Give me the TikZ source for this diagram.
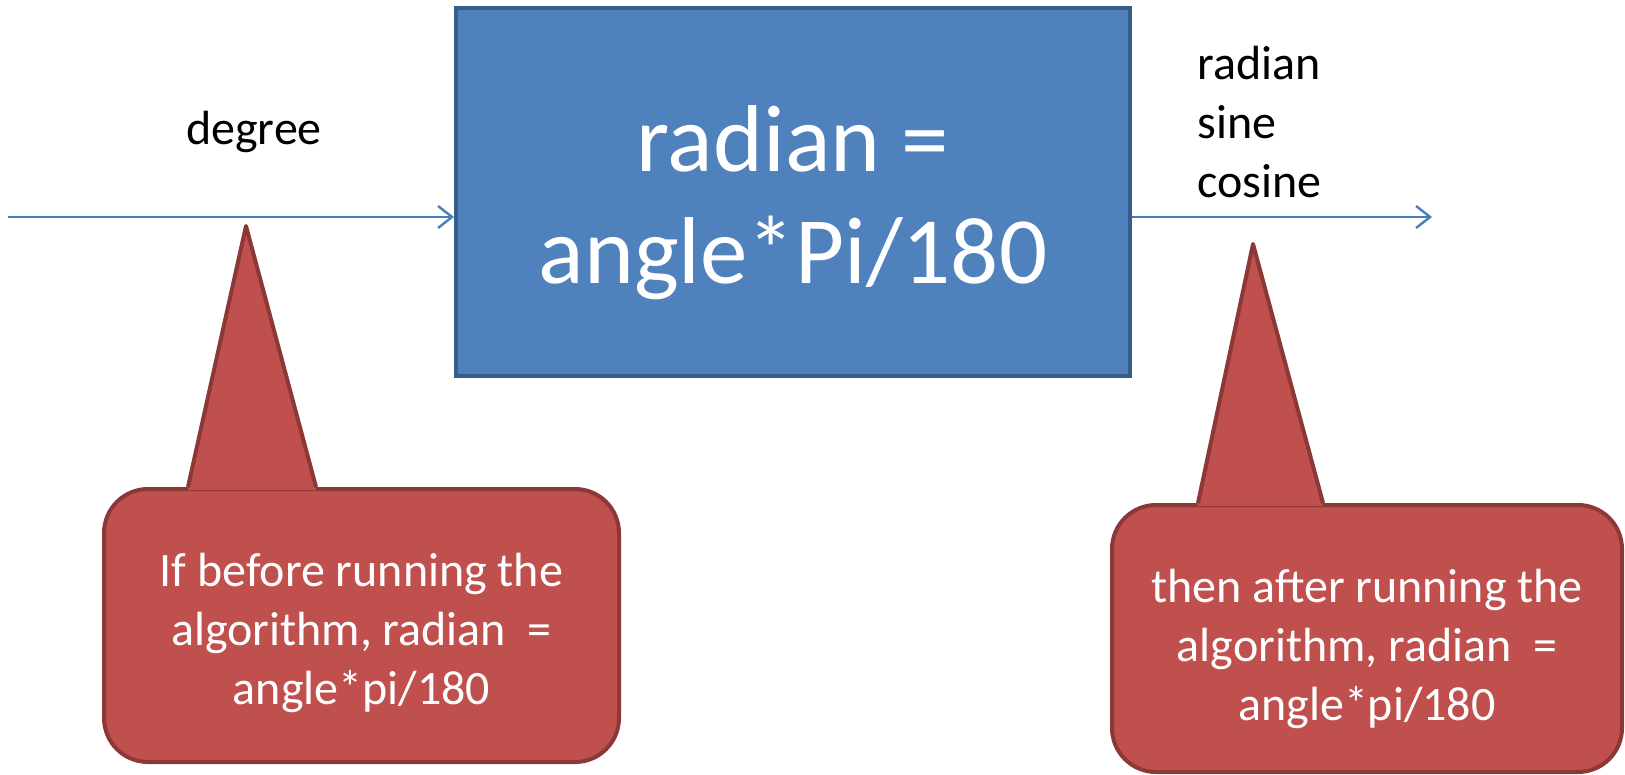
\documentclass[tikz,border=0pt]{standalone}
\usepackage{fontspec}
\setmainfont{Carlito}
\usetikzlibrary{arrows.meta,calc}
\definecolor{boxfill}{HTML}{4F81BD}
\definecolor{boxline}{HTML}{385D8A}
\definecolor{arrowc}{HTML}{4A7EBB}
\definecolor{notefill}{HTML}{C0504D}
\definecolor{noteline}{HTML}{8C3836}
\begin{document}
\begin{tikzpicture}[x=0.5pt,y=0.5pt,
  flow/.style={draw=arrowc, line width=1.2pt, -{Straight Barb[length=7pt,width=11pt,line width=1.2pt]}},
  mainbox/.style={draw=boxline, fill=boxfill, line width=2pt, minimum width=337pt, minimum height=184pt, align=center, text=white, font=\fontsize{47.5}{56}\selectfont, inner sep=0pt},
  note/.style={draw=noteline, fill=notefill, line width=2pt, rounded corners=22pt, align=center, text=white, font=\fontsize{24}{29.5}\selectfont, inner sep=0pt},
  pointerline/.style={draw=noteline, line width=2pt, line join=round},
  plaintext/.style={font=\fontsize{24}{29.5}\selectfont, inner sep=0pt, text=black}
]
\useasboundingbox (0,0) rectangle (1625,-775);

% main box
\node[mainbox] (box) at (793,-192) {\rule{0pt}{44pt}radian =\\angle*Pi/180};

% arrows
\coordinate (inStart) at (8,-217);
\coordinate (outEnd) at (1432,-217);
\draw[flow] (inStart) -- (inStart -| box.west);
\draw[flow] (outEnd -| box.east) -- (outEnd);

% labels
\node[plaintext, anchor=base] (deg) at (254,-145) {degree};
\node[plaintext, anchor=west, align=left] (outs) at (1197,-122) {radian\\sine\\cosine};

% left callout
\node[note, minimum width=257.5pt, minimum height=136.5pt] (lnote) at (361.5,-625.5) {\rule{0pt}{24pt}If before running the\\algorithm, radian\ \ =\\angle*pi/180};
\coordinate (ltip) at (246,-226);
\fill[notefill] ($(lnote.north west)+(86,-3)$) -- (ltip) -- ($(lnote.north west)+(214,-3)$) -- cycle;
\draw[pointerline] ($(lnote.north west)+(86,0)$) -- (ltip) -- ($(lnote.north west)+(214,0)$);

% right callout
\node[note, minimum width=255pt, minimum height=133.5pt] (rnote) at (1367,-638.5) {\rule{0pt}{27pt}then after running the\\algorithm, radian\ \ =\\angle*pi/180};
\coordinate (rtip) at (1253,-244);
\fill[notefill] ($(rnote.north west)+(88,-3)$) -- (rtip) -- ($(rnote.north west)+(213,-3)$) -- cycle;
\draw[pointerline] ($(rnote.north west)+(88,0)$) -- (rtip) -- ($(rnote.north west)+(213,0)$);
\end{tikzpicture}
\end{document}
